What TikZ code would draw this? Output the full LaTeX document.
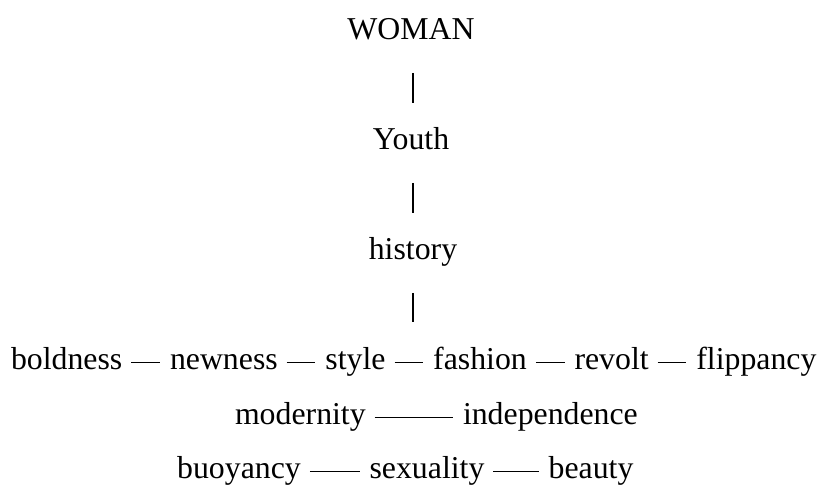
\documentclass[tikz,border=0pt]{standalone}
\usepackage{fontspec}
\setmainfont{Liberation Serif}
\begin{document}
\begin{tikzpicture}[x=1pt,y=1pt,
  word/.style={font=\fontsize{31.8}{38}\selectfont, inner sep=0pt, outer sep=0pt},
  hlink/.style={line width=1.3pt, black},
  vlink/.style={line width=1.2pt, black}]
\useasboundingbox (0,0) rectangle (824,486);
% column
\node[word, anchor=base] (woman) at (411,446) {WOMAN};
\node[word, anchor=base] (youth) at (411,336) {Youth};
\node[word, anchor=base] (history) at (413,226) {history};
% row 1
\node[word, anchor=base west] (boldness) at (11,116) {boldness};
\node[word, anchor=base west] (newness) at ([xshift=47.7pt]boldness.base east) {newness};
\node[word, anchor=base west] (style) at ([xshift=47.7pt]newness.base east) {style};
\node[word, anchor=base west] (fashion) at ([xshift=47.7pt]style.base east) {fashion};
\node[word, anchor=base west] (revolt) at ([xshift=47.7pt]fashion.base east) {revolt};
\node[word, anchor=base west] (flippancy) at ([xshift=47.7pt]revolt.base east) {flippancy};
% row 2
\node[word, anchor=base west] (modernity) at (235,61) {modernity};
\node[word, anchor=base west] (independence) at (463,61) {independence};
% row 3
\node[word, anchor=base] (buoyancy) at (239,7) {buoyancy};
\node[word, anchor=base] (sexuality) at (427,7) {sexuality};
\node[word, anchor=base] (beauty) at (591,7) {beauty};
% vertical links
\coordinate (woman-bar) at (413,446);
\coordinate (youth-bar) at (413,336);
\draw[vlink] ([yshift=-33pt]woman-bar) -- ([yshift=47pt]youth-bar);
\draw[vlink] ([yshift=-33pt]youth-bar) -- ([yshift=47pt]history.base);
\draw[vlink] ([yshift=-33pt]history.base) -- ([yshift=-62pt]history.base);
% horizontal links
\foreach \a/\b in {boldness/newness,newness/style,style/fashion,fashion/revolt,revolt/flippancy,modernity/independence,buoyancy/sexuality,sexuality/beauty}
  \draw[hlink] ([xshift=9pt,yshift=7.7pt]\a.base east) -- ([xshift=-10pt,yshift=7.7pt]\b.base west);
\end{tikzpicture}
\end{document}
